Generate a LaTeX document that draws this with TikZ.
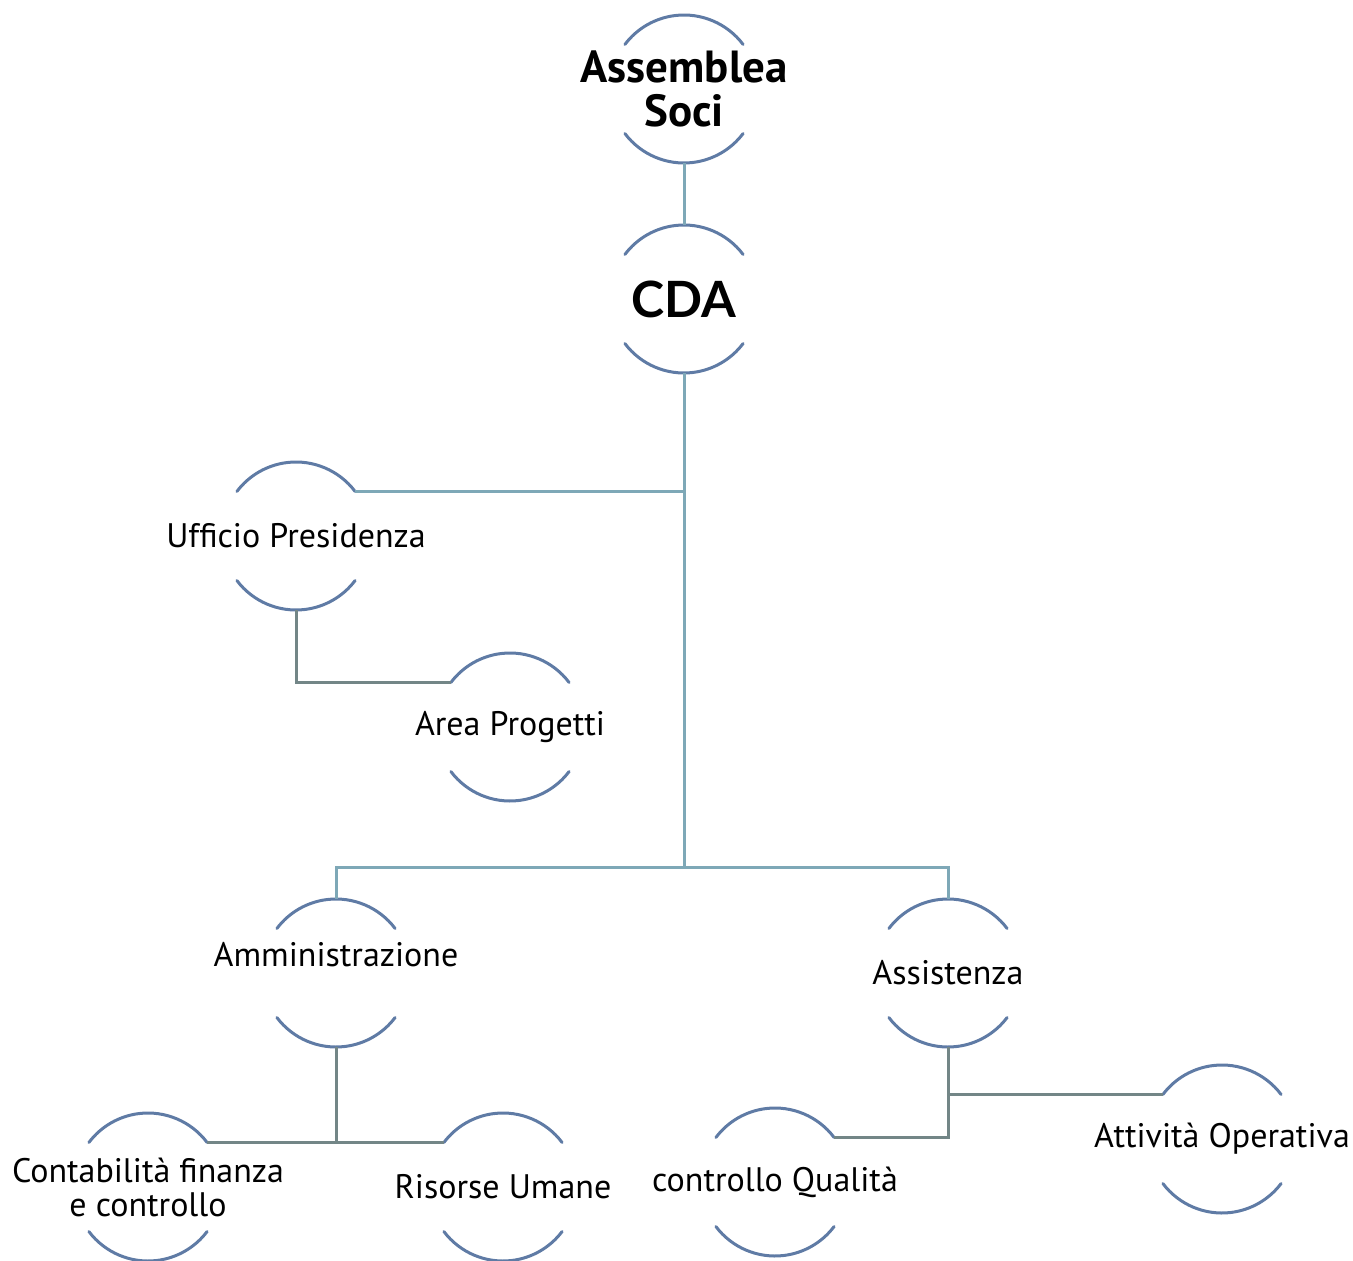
\documentclass[tikz,border=0pt]{standalone}
\usepackage{fontspec}
\setmainfont{PT Sans}
\newfontfamily\bfam{PT Sans}
\newfontfamily\cdafam{Lato}
\definecolor{arcc}{HTML}{5F7BA5}
\definecolor{lineA}{HTML}{7EA8B7}
\definecolor{lineB}{HTML}{738687}
\begin{document}
\begin{tikzpicture}[x=1pt,y=1pt,
  unit/.style={circle,minimum size=148pt,inner sep=0pt,outer sep=0pt},
  txt/.style={align=center,inner sep=0pt,font=\fontsize{34}{34}\selectfont},
  arcline/.style={draw=arcc,line width=3pt,line cap=round},
  conA/.style={draw=lineA,line width=3pt},
  conB/.style={draw=lineB,line width=3pt}]
\useasboundingbox (0,0) rectangle (1353,-1261);
\newcommand{\arcs}[1]{%
  \draw[arcline] (#1.37) arc[start angle=37,end angle=143,radius=74pt];
  \draw[arcline] (#1.217) arc[start angle=217,end angle=323,radius=74pt];}
\node[unit] (asm) at (684,-89) {};
\node[unit] (cda) at (684,-299) {};
\node[unit] (uff) at (296,-536) {};
\node[unit] (area) at (510,-727) {};
\node[unit] (amm) at (336,-973) {};
\node[unit] (ass) at (948,-973) {};
\node[unit] (cont) at (148,-1187) {};
\node[unit] (ris) at (503,-1187) {};
\node[unit] (qual) at (775,-1182) {};
\node[unit] (att) at (1222,-1139) {};
\node[txt,font=\bfam\bfseries\fontsize{45}{44}\selectfont] (asm-t) at (asm) {Assemblea\\Soci};
\node[txt,font=\cdafam\bfseries\fontsize{50}{54}\selectfont] (cda-t) at (cda) {CDA};
\node[txt] (uff-t) at (uff) {Ufficio Presidenza};
\node[txt] (area-t) at (area) {Area Progetti};
\node[txt] (amm-t) at ([yshift=18pt]amm.center) {Amministrazione};
\node[txt] (ass-t) at (ass) {Assistenza};
\node[txt] (cont-t) at (cont) {Contabilità finanza\\e controllo};
\node[txt] (ris-t) at (ris) {Risorse Umane};
\node[txt] (qual-t) at (qual) {controllo Qualità};
\node[txt] (att-t) at (att) {Attività Operativa};
\foreach \n in {asm,cda,uff,area,amm,ass,cont,ris,qual,att}{\arcs{\n}}
\coordinate (bus) at (684,-867);
\draw[conA] (asm.south) -- (cda.north);
\draw[conA] (cda.south) -- (bus);
\draw[conA] (uff.37) -- (uff.37 -| cda.south);
\draw[conA] (amm.north) -- (amm.north |- bus) -- (ass.north |- bus) -- (ass.north);
\draw[conB] (uff.south) |- (area.143);
\draw[conB] (amm.south) -- (amm.south |- cont.37);
\draw[conB] (cont.37) -- (ris.143);
\draw[conB] (ass.south) |- (qual.37);
\draw[conB] (ass.south |- att.143) -- (att.143);
\end{tikzpicture}
\end{document}
